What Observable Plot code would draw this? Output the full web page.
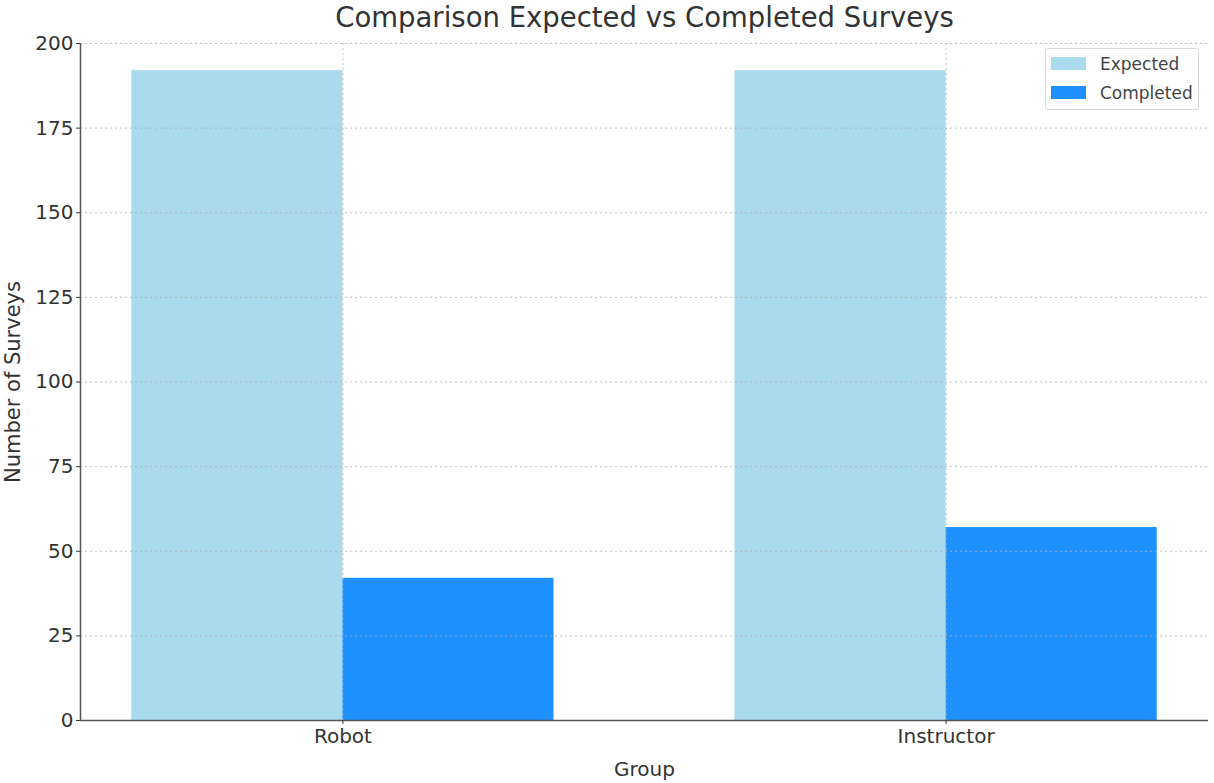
<!DOCTYPE html>
<html>
<head>
<meta charset="utf-8">
<script src="https://cdn.jsdelivr.net/npm/d3@7"></script>
<script src="https://cdn.jsdelivr.net/npm/@observablehq/plot@0.6"></script>
<style>
  html, body { margin: 0; padding: 0; background: #fff; }
  #wrap { position: relative; width: 1214px; height: 783px; font-family: "DejaVu Sans", sans-serif; }
  #legend { position: absolute; left: 1045px; top: 48px; width: 154px; height: 62px; border: 1px solid #d9d9d9; border-radius: 3px; background: #fff; box-sizing: border-box; padding: 0 0 0 5px; }
  #legend .row { display: flex; align-items: center; height: 29px; font-size: 17px; color: #444; }
  #legend .sw { width: 35px; height: 13px; margin-right: 14px; }
</style>
</head>
<body>
<div id="wrap"></div>
<script>
const groups = ["Robot", "Instructor"];
const series = ["Expected", "Completed"];
const expected = [192, 192];
const completed = [42, 57];
const colors = ["#a9daee", "#1e90ff"];
const yTicks = [0, 25, 50, 75, 100, 125, 150, 175, 200];
const title = "Comparison Expected vs Completed Surveys";

const barWidth = 0.35;
const xDomain = [-0.435, 1.435];
const data = groups.flatMap((g, i) => [
  {group: g, series: series[0], value: expected[i], x1: i - barWidth, x2: i},
  {group: g, series: series[1], value: completed[i], x1: i, x2: i + barWidth}
]);

const chart = Plot.plot({
  width: 1214,
  height: 783,
  marginLeft: 80,
  marginRight: 6,
  marginTop: 43,
  marginBottom: 63,
  style: {fontFamily: "DejaVu Sans, sans-serif", fontSize: "20px", color: "#333", background: "#fff"},
  x: {type: "linear", domain: xDomain},
  y: {domain: [0, 200]},
  color: {domain: series, range: colors},
  marks: [
    Plot.rectY(data, {x1: "x1", x2: "x2", y1: 0, y2: "value", fill: "series"}),
    Plot.gridY(yTicks, {stroke: "#b0b0b0", strokeOpacity: 0.8, strokeDasharray: "2,3"}),
    Plot.gridX([0, 1], {stroke: "#b0b0b0", strokeOpacity: 0.8, strokeDasharray: "2,3"}),
    Plot.ruleY([0], {stroke: "#555", strokeWidth: 1.5}),
    Plot.ruleX([xDomain[0]], {stroke: "#555", strokeWidth: 1.5}),
    Plot.axisY(yTicks, {tickSize: 4, tickPadding: 3, fontSize: 20, label: null}),
    Plot.axisY({ticks: [], tickSize: 0, fontSize: 21, label: "Number of Surveys", labelAnchor: "center", labelOffset: 75, labelArrow: false}),
    Plot.axisX([0, 1], {tickSize: 4, tickPadding: 4, fontSize: 20, tickFormat: d => groups[d], label: "Group", labelAnchor: "center", labelOffset: 55, labelArrow: false}),
    Plot.text([title], {frameAnchor: "top", dy: -25, fontSize: 27.5, fill: "#333", lineAnchor: "middle"})
  ]
});
const wrap = document.getElementById("wrap");
wrap.appendChild(chart);

const legend = document.createElement("div");
legend.id = "legend";
series.forEach((s, i) => {
  const row = document.createElement("div");
  row.className = "row";
  const sw = document.createElement("div");
  sw.className = "sw";
  sw.style.background = colors[i];
  const t = document.createElement("span");
  t.textContent = s;
  row.appendChild(sw);
  row.appendChild(t);
  legend.appendChild(row);
});
wrap.appendChild(legend);
</script>
</body>
</html>
